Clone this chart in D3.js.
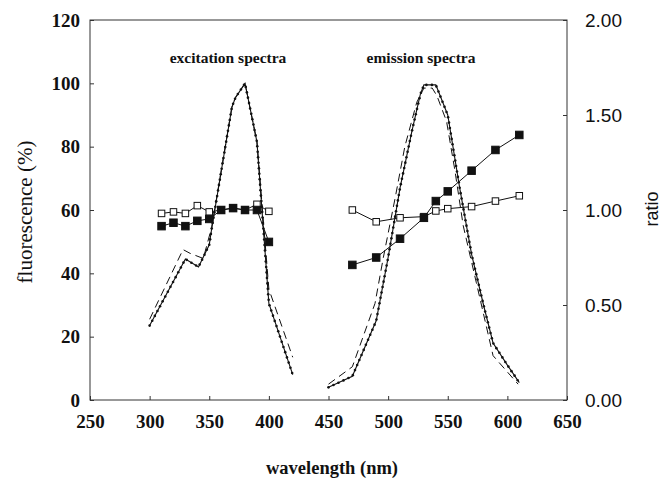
<!DOCTYPE html>
<html>
<head>
<meta charset="utf-8">
<script src="https://cdn.jsdelivr.net/npm/d3@7"></script>
<style>
  html, body { margin: 0; padding: 0; background: #fff; }
  svg { display: block; }
</style>
</head>
<body>
<svg id="chart" width="661" height="479"></svg>
<script>
// ---------- data (wavelength nm, fluorescence %) ----------
const xTicks = [250, 300, 350, 400, 450, 500, 550, 600, 650];
const yTicks = [0, 20, 40, 60, 80, 100, 120];
const rTicks = [0, 0.5, 1.0, 1.5, 2.0];

// excitation spectra (left axis, %)
const excSolid = [[300,23.5],[330,44.5],[341,42],[350,49],[352,54],[369,92.5],[372,95.5],[380,100],[390,81.5],[400,30.5],[420,8]];
const excDashed = [[300,25.5],[328,47.5],[334,46.3],[345,44.7],[352,54.5],[369,92.5],[372,95.5],[380,100],[390,81.5],[400,35],[420,13.5]];
// emission spectra (left axis, %)
const emSolid = [[450,4],[470,7.5],[490,25],[500,45],[510,67],[520,85],[527,96.5],[530,99.5],[540,99.5],[550,90],[560,67],[570,46],[580,30],[588,18],[600,11],[610,5.5]];
const emDashed = [[450,5],[470,10.5],[489,30.5],[496,45],[506,64],[514,80],[524,94],[530,98.5],[537,98.5],[541,96],[549,88],[556,72.5],[563,55],[574,37],[588,14],[609,5]];

// ratios (right axis)
const excFilled = [[310,0.915],[320,0.933],[330,0.915],[340,0.943],[350,0.953],[360,1.0],[370,1.01],[380,1.0],[390,1.0],[400,0.832]];
const excOpen   = [[310,0.982],[320,0.99],[330,0.982],[340,1.023],[350,0.99],[360,1.0],[370,1.01],[380,1.0],[390,1.03],[400,0.993]];
const emFilled  = [[470,0.711],[490,0.75],[510,0.849],[530,0.959],[540,1.047],[550,1.098],[570,1.207],[590,1.316],[610,1.395]];
const emOpen    = [[470,1.0],[490,0.938],[510,0.959],[530,0.965],[540,0.995],[550,1.007],[570,1.018],[590,1.047],[610,1.075]];

// ---------- layout ----------
const svg = d3.select("#chart");
const L = 90, R = 567, T = 20, B = 400;
const x = d3.scaleLinear().domain([250, 650]).range([L, R]);
const y = d3.scaleLinear().domain([0, 120]).range([B, T]);
const yR = d3.scaleLinear().domain([0, 2]).range([B, T]);

const serif = "'Liberation Serif', 'Times New Roman', serif";
const sans = "'Liberation Sans', Arial, sans-serif";
const axisCol = "#333";

// frame
svg.append("rect").attr("x", L).attr("y", T).attr("width", R - L).attr("height", B - T)
  .attr("fill", "none").attr("stroke", axisCol).attr("stroke-width", 1);

// axes
const gx = svg.append("g").attr("transform", `translate(0,${B})`)
  .call(d3.axisBottom(x).tickValues(xTicks).tickSize(-4).tickPadding(15).tickFormat(d3.format("d")));
const gy = svg.append("g").attr("transform", `translate(${L},0)`)
  .call(d3.axisLeft(y).tickValues(yTicks).tickSize(-4).tickPadding(10).tickFormat(d3.format("d")));
const gr = svg.append("g").attr("transform", `translate(${R},0)`)
  .call(d3.axisRight(yR).tickValues(rTicks).tickSize(-4).tickPadding(18).tickFormat(d3.format(".2f")));

[gx, gy, gr].forEach(g => {
  g.select(".domain").remove();
  g.selectAll(".tick line").attr("stroke", axisCol);
});
gx.selectAll("text").attr("font-family", serif).attr("font-weight", "bold").attr("font-size", 19).attr("fill", "#111");
gy.selectAll("text").attr("font-family", serif).attr("font-weight", "bold").attr("font-size", 19).attr("fill", "#111");
gr.selectAll("text").attr("font-family", sans).attr("font-size", 19).attr("fill", "#111");

// axis titles
svg.append("text").attr("x", 332).attr("y", 474).attr("text-anchor", "middle")
  .attr("font-family", serif).attr("font-weight", "bold").attr("font-size", 18.5).attr("fill", "#111")
  .text("wavelength (nm)");
svg.append("text").attr("transform", "translate(32,212) rotate(-90)").attr("text-anchor", "middle")
  .attr("font-family", serif).attr("font-size", 21).attr("fill", "#111")
  .text("fluorescence (%)");
svg.append("text").attr("transform", "translate(658,209) rotate(-90)").attr("text-anchor", "middle")
  .attr("font-family", sans).attr("font-size", 18).attr("fill", "#111")
  .text("ratio");

// panel labels
svg.append("text").attr("x", 228).attr("y", 63).attr("text-anchor", "middle")
  .attr("font-family", serif).attr("font-weight", "bold").attr("font-size", 15.5).attr("fill", "#111")
  .text("excitation spectra");
svg.append("text").attr("x", 421).attr("y", 63).attr("text-anchor", "middle")
  .attr("font-family", serif).attr("font-weight", "bold").attr("font-size", 15.5).attr("fill", "#111")
  .text("emission spectra");

// lines
const lineL = d3.line().x(d => x(d[0])).y(d => y(d[1]));
const lineR = d3.line().x(d => x(d[0])).y(d => yR(d[1]));

function dashed(data) {
  svg.append("path").attr("d", lineL(data)).attr("fill", "none")
    .attr("stroke", "#111").attr("stroke-width", 1).attr("stroke-dasharray", "8,5");
}
function dotted(data) {
  const p = svg.append("path").attr("d", lineL(data)).attr("fill", "none")
    .attr("stroke", "#111").attr("stroke-width", 1.1);
  const node = p.node();
  const len = node.getTotalLength();
  const step = 5.5;
  const pts = [];
  for (let s = 0; s <= len; s += step) pts.push(node.getPointAtLength(s));
  svg.append("g").selectAll("circle").data(pts).join("circle")
    .attr("cx", d => d.x).attr("cy", d => d.y).attr("r", 1.3).attr("fill", "#111");
}
dashed(excDashed);
dotted(excSolid);
dashed(emDashed);
dotted(emSolid);

// ratio series
function ratio(data, filled) {
  svg.append("path").attr("d", lineR(data)).attr("fill", "none").attr("stroke", "#111").attr("stroke-width", 1);
  const s = filled ? 7.5 : 6.5;
  svg.append("g").selectAll("rect").data(data).join("rect")
    .attr("x", d => x(d[0]) - s / 2).attr("y", d => yR(d[1]) - s / 2)
    .attr("width", s).attr("height", s)
    .attr("fill", filled ? "#111" : "#fff").attr("stroke", "#111").attr("stroke-width", 1);
}
ratio(excOpen, false);
ratio(excFilled, true);
ratio(emOpen, false);
ratio(emFilled, true);
</script>
</body>
</html>
